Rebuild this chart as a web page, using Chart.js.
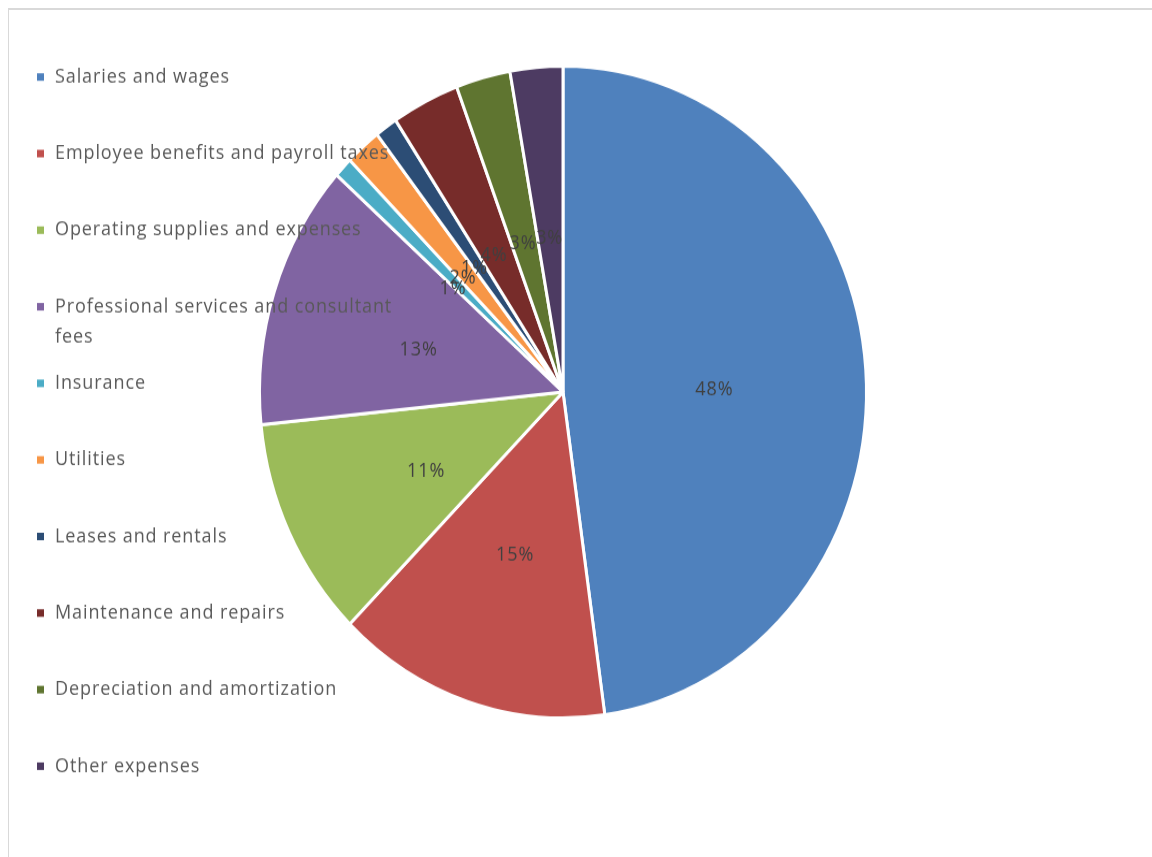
<!DOCTYPE html>
<html>
<head>
<meta charset="utf-8">
<script src="https://cdn.jsdelivr.net/npm/chart.js@4/dist/chart.umd.min.js"></script>
<style>
  html, body { margin: 0; padding: 0; background: #fff; overflow: hidden; }
  body { width: 1152px; height: 857px; position: relative; }
  #frame { position: absolute; left: 8px; top: 8px; width: 1400px; height: 1000px;
           border-left: 1px solid #d9d9d9; border-top: 2px solid #d9d9d9; }
  /* the source picture is stretched vertically, so the canvas is too */
  #pie { position: absolute; left: 0; top: 0; transform-origin: 0 0; transform: scaleY(1.074); }
</style>
</head>
<body>
<div id="frame"></div>
<canvas id="pie" width="1152" height="798"></canvas>
<script>
var categories = [
  'Salaries and wages',
  'Employee benefits and payroll taxes',
  'Operating supplies and expenses',
  ['Professional services and consultant', 'fees'],
  'Insurance',
  'Utilities',
  'Leases and rentals',
  'Maintenance and repairs',
  'Depreciation and amortization',
  'Other expenses'
];
var shares = [47.8, 14.6, 11.0, 13.2, 1.0, 1.9, 1.2, 3.6, 2.9, 2.8];
var sliceColors = ['#4F81BD', '#C0504D', '#9BBB59', '#8064A2', '#4BACC6',
                   '#F79646', '#2C4D75', '#772C2A', '#5F7530', '#4D3B62'];

var textFont = '18px "Open Sans", sans-serif';

// legend on the left, drawn over the pie like the original
var sideLegend = {
  id: 'sideLegend',
  afterDatasetsDraw: function(chart) {
    var ctx = chart.ctx;
    ctx.save();
    ctx.font = textFont;
    ctx.letterSpacing = '0.9px';
    ctx.textBaseline = 'middle';
    ctx.textAlign = 'left';
    chart.data.labels.forEach(function(lab, i) {
      var y = 71.7 + i * 71.3;
      ctx.fillStyle = sliceColors[i];
      ctx.fillRect(37, y - 3.5, 7, 7);
      ctx.fillStyle = '#595959';
      var lines = Array.isArray(lab) ? lab : [lab];
      lines.forEach(function(ln, j) {
        ctx.fillText(ln, 55, y + j * 28);
      });
    });
    ctx.restore();
  }
};

// percentage labels in the middle of each slice
var pctLabels = {
  id: 'pctLabels',
  afterDraw: function(chart) {
    var ctx = chart.ctx;
    var meta = chart.getDatasetMeta(0);
    var total = shares.reduce(function(a, b) { return a + b; }, 0);
    ctx.save();
    ctx.font = textFont;
    ctx.letterSpacing = '0.9px';
    ctx.fillStyle = '#404040';
    ctx.textAlign = 'center';
    ctx.textBaseline = 'middle';
    meta.data.forEach(function(arc, i) {
      var pos = arc.tooltipPosition(true);
      ctx.fillText(Math.round(shares[i] / total * 100) + '%', pos.x, pos.y + 8);
    });
    ctx.restore();
  }
};

var ctx = document.getElementById('pie').getContext('2d');
var pieChart = new Chart(ctx, {
  type: 'pie',
  data: {
    labels: categories,
    datasets: [{
      data: shares,
      backgroundColor: sliceColors,
      borderColor: '#ffffff',
      borderWidth: 3
    }]
  },
  options: {
    responsive: false,
    animation: false,
    layout: { padding: { left: 258, right: 284, top: 60, bottom: 128 } },
    plugins: {
      legend: { display: false },
      tooltip: { enabled: false }
    }
  },
  plugins: [sideLegend, pctLabels]
});
</script>
</body>
</html>
